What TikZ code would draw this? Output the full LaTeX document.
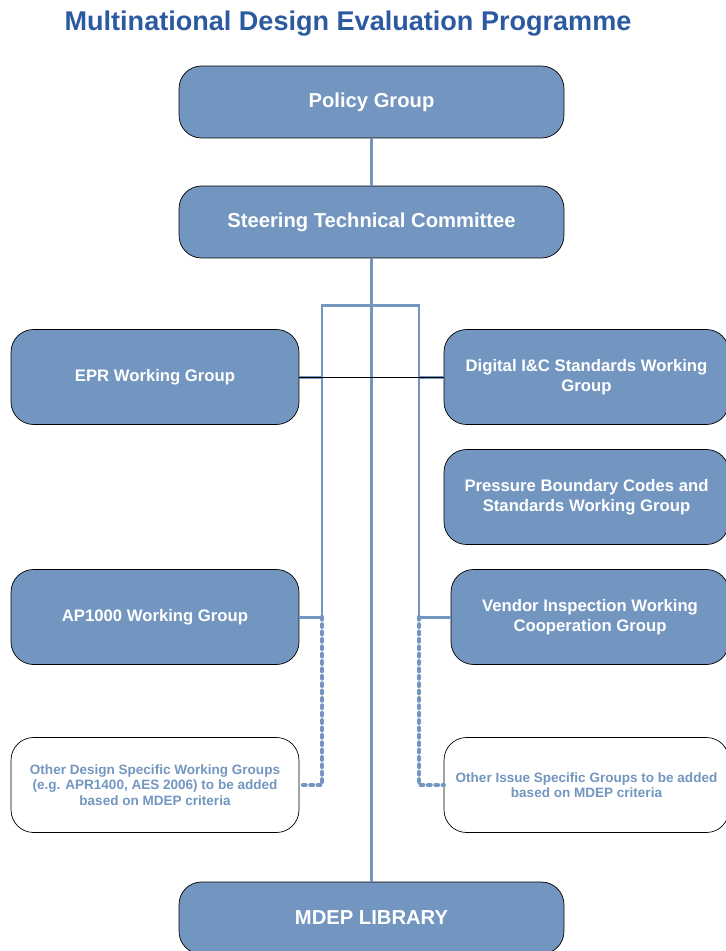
\documentclass[tikz,border=0pt]{standalone}
\usepackage{fontspec}
\setmainfont{Liberation Sans}
\definecolor{boxblue}{RGB}{115,150,193}
\definecolor{titleblue}{RGB}{44,90,160}
\tikzset{
  group/.style={draw=black, fill=boxblue, rounded corners=0.45cm, text=white,
    font=\bfseries\fontsize{9.5}{11.4}\selectfont, align=center, minimum height=1.9cm},
  topgroup/.style={group, minimum width=7.7cm, minimum height=1.44cm,
    font=\bfseries\fontsize{11.5}{13.8}\selectfont},
  futuregroup/.style={group, fill=white, text=boxblue,
    font=\bfseries\fontsize{7.7}{8.9}\selectfont},
  link/.style={draw=boxblue, line width=1.7pt},
  futurelink/.style={draw=boxblue, line width=2.5pt, line cap=round, dash pattern=on 1.4pt off 2.8pt}
}
\begin{document}
\begin{tikzpicture}[x=0.02cm, y=-0.02cm]
    \useasboundingbox (0,0) rectangle (726,951);
    \node (title) at (348,24) {\color{titleblue}\bfseries\fontsize{15.4}{18}\selectfont Multinational Design Evaluation Programme};

    \node[topgroup] (policy) at (371.5,102) {Policy Group};
    \node[topgroup] (stc) at (371.5,222) {Steering Technical Committee};
    \node[topgroup] (library) at (371.5,918) {MDEP LIBRARY};

    \node[group, minimum width=5.76cm] (epr) at (155,377) {EPR Working Group};
    \node[group, minimum width=5.76cm] (ap) at (155,617) {AP1000 Working Group};
    \node[futuregroup, minimum width=5.76cm] (odesign) at (155,785) {Other Design Specific Working Groups\\(e.g. APR1400, AES 2006) to be added\\based on MDEP criteria};

    \node[group, minimum width=5.7cm] (dic) at (586.5,377) {Digital I\&C Standards Working\\Group};
    \node[group, minimum width=5.7cm] (pbc) at (586.5,497) {Pressure Boundary Codes and\\Standards Working Group};
    \node[group, minimum width=5.56cm] (vendor) at (590,617) {Vendor Inspection Working\\Cooperation Group};
    \node[futuregroup, minimum width=5.7cm] (oissue) at (586.5,785) {Other Issue Specific Groups to be added\\based on MDEP criteria};

    % spine and bracket
    \coordinate (bl) at (322,305);
    \coordinate (br) at (419,305);
    \coordinate (jl) at (322,617);
    \coordinate (jr) at (419,617);
    \coordinate (dl) at (322,785);
    \coordinate (dr) at (419,785);
    \draw[link] (policy) -- (stc);
    \draw[link] (stc) -- (library);
    \draw[link] (jl) -- (bl) -- (br) -- (jr);
    \draw[link] (epr.east) -- (epr.east -| bl);
    \draw[link] (dic.west) -- (dic.west -| br);
    \draw[thin] (epr.east) -- (dic.west);
    \draw[link] (ap.east) -- (jl);
    \draw[link] (vendor.west) -- (jr);
    \draw[futurelink] (jl) -- (dl) -- (odesign.east);
    \draw[futurelink] (jr) -- (dr) -- (oissue.west);
\end{tikzpicture}
\end{document}
